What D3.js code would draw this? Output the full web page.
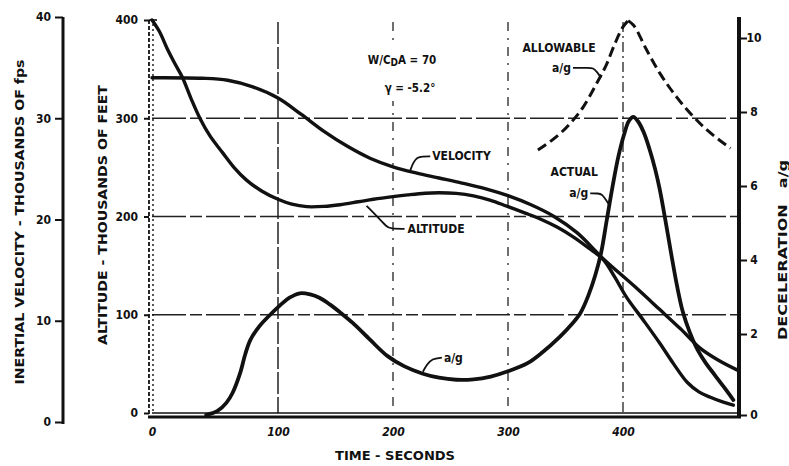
<!DOCTYPE html>
<html>
<head>
<meta charset="utf-8">
<script src="https://cdn.jsdelivr.net/npm/d3@7"></script>
<style>
  body { margin: 0; background: #fff; }
  svg { display: block; }
  text {
    font-family: "DejaVu Sans Condensed", "Liberation Sans Narrow", "Arial Narrow", sans-serif;
    font-weight: bold;
    fill: #111;
  }
</style>
</head>
<body>
<svg id="chart" width="789" height="466"></svg>
<script>
// ---- tick labels -------------------------------------------------------
const timeTicks = [0, 100, 200, 300, 400];
const altitudeTicks = [0, 100, 200, 300, 400];
const velocityTicks = [0, 10, 20, 30, 40];
const decelTicks = [0, 2, 4, 6, 8, 10];

// ---- series: [time s, value] -------------------------------------------
// inertial velocity, thousands of fps
const velocity = [
  [0, 34.0], [40, 33.95], [60, 33.75], [80, 33.1], [100, 32.0], [120, 30.4],
  [140, 28.7], [160, 27.25], [180, 26.05], [200, 25.2], [220, 24.6],
  [240, 24.1], [260, 23.6], [280, 23.05], [300, 22.35], [320, 21.45],
  [340, 20.3], [360, 18.7], [383, 16.1], [410, 13.4], [432, 11.1],
  [450, 9.2], [467, 7.3], [483, 6.1], [500, 5.1]
];
// altitude, thousands of feet
const altitude = [
  [0, 400], [6, 388], [12, 371], [18, 356], [24, 342], [31, 320], [38, 300],
  [46, 282], [56, 265], [65, 250], [75, 237], [87, 226], [100, 217.5],
  [112, 212.5], [125, 210], [140, 210.3], [154, 212], [170, 215],
  [183, 217.5], [200, 220.2], [213, 222], [228, 223.7], [240, 224.2],
  [255, 223.5], [270, 221], [285, 216.5], [299, 210.5], [315, 203.5],
  [328, 197.5], [343, 189], [357, 179], [370, 168], [383, 156],
  [393, 138], [403, 118], [418, 94], [432, 71], [444, 50], [456, 31],
  [466, 21.5], [476, 16], [486, 11.5], [496, 8]
];
// actual deceleration, a/g
const actualDecel = [
  [43, 0], [52, 0.1], [59, 0.3], [64, 0.55], [70, 1.04], [74, 1.5],
  [78, 1.85], [85, 2.2], [92, 2.46], [102, 2.78], [110, 2.98], [119, 3.1],
  [128, 3.07], [136, 2.98], [145, 2.8], [155, 2.56], [165, 2.3],
  [180, 1.86], [195, 1.46], [210, 1.2], [226, 1.02], [240, 0.92],
  [255, 0.87], [270, 0.88], [285, 0.95], [300, 1.08], [317, 1.28],
  [330, 1.55], [345, 1.93], [355, 2.25], [363, 2.57], [370, 3.05],
  [376, 3.6], [381, 4.2], [386, 5.1], [391, 6.0], [396, 6.8], [401, 7.4],
  [405, 7.75], [409, 7.87], [413, 7.75], [418, 7.45], [423, 7.0],
  [428, 6.45], [432, 5.9], [437, 5.05], [442, 4.15], [447, 3.3],
  [452, 2.6], [458, 2.05], [465, 1.6], [472, 1.28], [480, 0.98],
  [488, 0.68], [496, 0.37]
];
// allowable deceleration, a/g
const allowableDecel = [
  [326, 6.97], [354, 7.69], [365.5, 8.14], [377, 8.77], [386, 9.31],
  [393, 9.85], [400, 10.3], [404.5, 10.47], [409, 10.35], [420.5, 9.68],
  [432, 9.05], [446.5, 8.41], [467, 7.69], [493.5, 7.02]
];

// ---- scales ------------------------------------------------------------
const svg = d3.select("#chart");
const x = d3.scaleLinear().domain([0, 100, 200, 300, 400, 500]).range([152, 278, 393, 508, 623, 738]);
const yAlt = d3.scaleLinear().domain([0, 400]).range([413, 20]);
const yVel = d3.scaleLinear().domain([0, 40]).range([422, 17]);
const yDec = d3.scaleLinear().domain([0, 2, 10]).range([415, 334, 38]);

const [x0, x1] = [x(0), x(500)];
const ink = "#111";

// ---- grid --------------------------------------------------------------
const grid = svg.append("g").attr("stroke", "#222").attr("fill", "none");
grid.selectAll("line.h").data([100, 200, 300]).join("line")
  .attr("x1", x0).attr("x2", x1)
  .attr("y1", d => yAlt(d)).attr("y2", d => yAlt(d))
  .attr("stroke-width", 1.4)
  .attr("stroke-dasharray", "34,4,12,4");
const vDash = { 100: "22,3", 200: "9,7,2,7", 300: "9,7,2,7", 400: "10,4,2,4" };
grid.selectAll("line.v").data([100, 200, 300, 400]).join("line")
  .attr("x1", d => x(d)).attr("x2", d => x(d))
  .attr("y1", yAlt(400) + 2).attr("y2", yAlt(0))
  .attr("stroke-width", d => d === 100 ? 1.5 : 1.3)
  .attr("stroke-dasharray", d => vDash[d]);

// ---- frame -------------------------------------------------------------
const frame = svg.append("g").attr("stroke", ink).attr("fill", "none");
frame.append("line").attr("x1", x0 - 3).attr("x2", x0 - 3)
  .attr("y1", yAlt(400)).attr("y2", yAlt(0) + 4)
  .attr("stroke-width", 1.8).attr("stroke-dasharray", "4,2");
frame.append("line").attr("x1", x0 + 1).attr("x2", x0 + 1)
  .attr("y1", yAlt(400) + 4).attr("y2", yAlt(0))
  .attr("stroke-width", 1.4).attr("stroke-dasharray", "2,3");
frame.append("line").attr("x1", x0 - 3).attr("x2", x0 + 5)
  .attr("y1", yAlt(400)).attr("y2", yAlt(400)).attr("stroke-width", 1.6);
frame.append("line").attr("x1", x0).attr("x2", x1)
  .attr("y1", yAlt(0)).attr("y2", yAlt(0)).attr("stroke-width", 1.5);
frame.append("line").attr("x1", x0 - 4).attr("x2", x1 + 3)
  .attr("y1", yAlt(0) + 4).attr("y2", yAlt(0) + 4).attr("stroke-width", 3);

// ---- axes --------------------------------------------------------------
function styleAxis(g, size) {
  g.select(".domain").remove();
  g.selectAll(".tick line").attr("stroke", ink).attr("stroke-width", 2);
  g.selectAll(".tick text").attr("font-size", size).attr("fill", ink)
    .attr("font-family", null);
}

// altitude (inner left)
svg.append("g").attr("transform", `translate(${x0 - 3},0)`)
  .call(d3.axisLeft(yAlt).tickValues(altitudeTicks).tickSize(5).tickPadding(6))
  .call(g => styleAxis(g, 12));

// inertial velocity (outer left)
const velX = 63;
svg.append("line").attr("x1", velX).attr("x2", velX)
  .attr("y1", yVel(40)).attr("y2", yVel(0) + 2)
  .attr("stroke", ink).attr("stroke-width", 3);
svg.append("g").attr("transform", `translate(${velX},0)`)
  .call(d3.axisLeft(yVel).tickValues(velocityTicks).tickSize(8).tickPadding(4))
  .call(g => styleAxis(g, 12));

// deceleration (right)
const decX = x1 + 1;
svg.append("line").attr("x1", decX).attr("x2", decX)
  .attr("y1", 17).attr("y2", yDec(0) + 3)
  .attr("stroke", ink).attr("stroke-width", 4);
svg.append("g").attr("transform", `translate(${decX},0)`)
  .call(d3.axisRight(yDec).tickValues(decelTicks).tickSize(8).tickPadding(4))
  .call(g => styleAxis(g, 12))
  .call(g => g.selectAll(".tick text").attr("text-anchor", "middle").attr("x", 15));

// time (bottom)
svg.append("g").attr("transform", `translate(0,${yAlt(0) + 5})`)
  .call(d3.axisBottom(x).tickValues(timeTicks).tickSize(0).tickPadding(9))
  .call(g => styleAxis(g, 12))
  .call(g => g.selectAll(".tick text").attr("font-style", "italic"));

// ---- axis titles -------------------------------------------------------
function vTitle(cx, cy, txt, len) {
  svg.append("text")
    .attr("transform", `translate(${cx},${cy}) rotate(-90)`)
    .attr("text-anchor", "middle").attr("dominant-baseline", "central")
    .attr("font-size", 13)
    .attr("textLength", len).attr("lengthAdjust", "spacingAndGlyphs")
    .text(txt);
}
vTitle(19, 222, "INERTIAL VELOCITY - THOUSANDS OF fps", 325);
vTitle(102, 215, "ALTITUDE - THOUSANDS OF FEET", 260);
vTitle(782, 250, "DECELERATION\u2003a/g", 180);

svg.append("text").attr("x", 395).attr("y", 455)
  .attr("text-anchor", "middle").attr("dominant-baseline", "central")
  .attr("font-size", 13).attr("textLength", 120).attr("lengthAdjust", "spacingAndGlyphs")
  .text("TIME - SECONDS");

// ---- curves ------------------------------------------------------------
const smoothLine = (yScale) => d3.line()
  .x(d => x(d[0])).y(d => yScale(d[1]))
  .curve(d3.curveCatmullRom.alpha(0.5));
const monoLine = (yScale) => d3.line()
  .x(d => x(d[0])).y(d => yScale(d[1]))
  .curve(d3.curveMonotoneX);

const curves = svg.append("g").attr("fill", "none").attr("stroke", ink)
  .attr("stroke-linecap", "round").attr("stroke-linejoin", "round");
curves.append("path").datum(velocity).attr("d", smoothLine(yVel)).attr("stroke-width", 3.4);
curves.append("path").datum(altitude).attr("d", smoothLine(yAlt)).attr("stroke-width", 3.4);
curves.append("path").datum(actualDecel).attr("d", smoothLine(yDec)).attr("stroke-width", 3.8);

// allowable limit: two branches meeting in a cusp at the peak
const peakIdx = d3.maxIndex(allowableDecel, d => d[1]);
[allowableDecel.slice(0, peakIdx + 1), allowableDecel.slice(peakIdx)].forEach(branch => {
  curves.append("path").datum(branch).attr("d", monoLine(yDec))
    .attr("stroke-width", 3).attr("stroke-dasharray", "10,5").attr("stroke-linecap", "butt");
});

// ---- annotations -------------------------------------------------------
const ann = svg.append("g");
const leader = (pts) => ann.append("path")
  .attr("d", d3.line().curve(d3.curveBasis)(pts))
  .attr("fill", "none").attr("stroke", ink).attr("stroke-width", 1.8);
const label = (px, py, txt, anchor = "start", size = 12) => ann.append("text")
  .attr("x", px).attr("y", py).attr("text-anchor", anchor)
  .attr("dominant-baseline", "central").attr("font-size", size).text(txt);

// VELOCITY
{
  const ax = x(215), ay = yVel(24.75) - 1;
  leader([[ax, ay], [ax + 3, ay - 8], [ax + 7, ay - 13], [ax + 12, ay - 14], [ax + 20, ay - 14]]);
  label(ax + 22, ay - 14, "VELOCITY");
}
// ALTITUDE
{
  const ax = x(177), ay = yAlt(217) + 6;
  leader([[ax, ay], [ax + 11, ay + 11], [ax + 20, ay + 21], [ax + 24, ay + 23], [ax + 38, ay + 23]]);
  label(ax + 41, ay + 23, "ALTITUDE");
}
// a/g
{
  const ax = x(226), ay = yDec(1.02) - 2;
  leader([[ax, ay], [ax + 4, ay - 7], [ax + 9, ay - 13], [ax + 19, ay - 14]]);
  label(ax + 21, ay - 14, "a/g");
}
// ALLOWABLE a/g
{
  const ax = x(380) + 1, ay = yDec(8.95) + 1;
  leader([[ax, ay], [ax - 4, ay - 6], [ax - 8, ay - 10], [ax - 12, ay - 10], [ax - 28, ay - 10]]);
  label(ax - 30, ay - 10, "a/g", "end");
  label(ax - 42, ay - 30, "ALLOWABLE", "middle");
}
// ACTUAL a/g
{
  const ax = x(388) + 1, ay = yDec(5.45);
  leader([[ax, ay], [ax - 4, ay - 6], [ax - 8, ay - 12], [ax - 12, ay - 13], [ax - 20, ay - 13]]);
  label(ax - 22, ay - 13, "a/g", "end");
  label(ax - 36, ay - 34, "ACTUAL", "middle");
}

// trajectory parameters, set over a cleared patch of the grid
{
  const g = svg.append("g");
  const bg = g.append("rect").attr("fill", "#fff");
  const t1 = g.append("text").attr("x", 402).attr("y", 60)
    .attr("text-anchor", "middle").attr("dominant-baseline", "central")
    .attr("font-size", 11.5);
  t1.append("tspan").text("W/C");
  t1.append("tspan").attr("baseline-shift", "-25%").attr("font-size", 10).text("D");
  t1.append("tspan").text("A = 70");
  g.append("text").attr("x", 410).attr("y", 88)
    .attr("text-anchor", "middle").attr("dominant-baseline", "central")
    .attr("font-size", 11.5).text("\u03B3 = -5.2\u00B0");
  const b = g.node().getBBox();
  bg.attr("x", b.x - 2).attr("y", b.y - 6).attr("width", b.width + 4).attr("height", b.height + 12);
}
</script>
</body>
</html>
